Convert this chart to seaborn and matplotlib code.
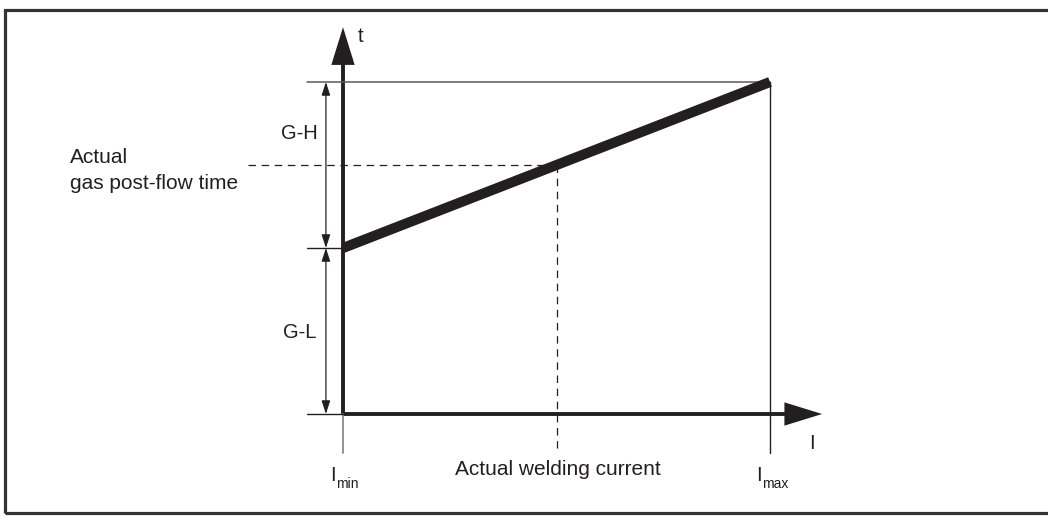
import matplotlib
matplotlib.use("Agg")
import matplotlib.pyplot as plt
from matplotlib.patches import FancyArrowPatch, Rectangle
import seaborn as sns
import pandas as pd

sns.set_theme(style="white")
plt.rcParams["font.family"] = ["Liberation Sans", "DejaVu Sans"]

# Welding current (normalised: I_min = 0, I_max = 1)
current = [0.0, 1.0]
# Gas post-flow time: G-L at I_min, G-L + G-H at I_max
post_flow_time = [1.0, 2.0]
g_low = 1.0
g_high = 1.0
actual_current = 0.5
actual_time = 1.5
axis_labels = ["I", "t"]
current_subscripts = ["min", "max"]
dim_labels = ["G-L", "G-H"]
actual_current_label = "Actual welding current"
actual_time_label = ["Actual", "gas post-flow time"]

INK = "#231f20"
GREY = "#5a5a5a"
FS = 14.5

W, H = 1048, 517
fig = plt.figure(figsize=(W / 100, H / 100), dpi=100)
ax = fig.add_axes([0, 0, 1, 1])
ax.set_axis_off()

# data scale: 427 px per unit current, 166 px per unit time
x0, sx = 343, 427
y0, sy = 414, 166
ax.set_xlim(-x0 / sx, (W - x0) / sx)
ax.set_ylim(-(H - y0) / sy, y0 / sy)

# outer frame
fig.patches.append(Rectangle((5 / W, 4 / H), 1.2, (513 - 10) / H, transform=fig.transFigure,
                             fill=False, edgecolor="#333333", lw=2.3))

t_max = g_low + g_high
left_ext = -0.084
below = -0.235

# reference lines
ax.plot([left_ext, current[1]], [t_max, t_max], color=GREY, lw=1.1)
ax.plot([current[1], current[1]], [t_max, below], color=INK, lw=1.0)
ax.plot([0, 0], [0, below], color="#8a8a8a", lw=1.3)
ax.plot([left_ext, 0], [g_low, g_low], color=INK, lw=1.0)
ax.plot([left_ext, 0], [0, 0], color=INK, lw=1.0)

# actual operating point
ax.plot([-0.222, actual_current], [actual_time, actual_time], color=INK, lw=0.9,
        dashes=(6, 4.5))
ax.plot([actual_current, actual_current], [actual_time, below], color=INK, lw=0.9,
        dashes=(6, 4.5))

# axes with arrow heads
for tip in [(1.122, 0), (0, 2.33)]:
    ax.add_patch(FancyArrowPatch((0, 0), tip, arrowstyle="-|>,head_length=21,head_width=6.5",
                                 mutation_scale=1, color=INK, lw=2.8, shrinkA=0, shrinkB=0,
                                 capstyle="butt", joinstyle="miter"))

# dimension arrows G-L / G-H
dim_x = -0.040
for lo, hi in [(0, g_low), (g_low, t_max)]:
    ax.add_patch(FancyArrowPatch((dim_x, lo), (dim_x, hi),
                                 arrowstyle="<|-|>,head_length=8,head_width=2.6",
                                 mutation_scale=1, color=INK, lw=0.9, shrinkA=0, shrinkB=0))

# characteristic line
df = pd.DataFrame({"I": current, "t": post_flow_time})
sns.lineplot(data=df, x="I", y="t", ax=ax, color=INK, lw=7.3,
             solid_capstyle="butt", legend=False)

# labels
ax.text(0.042, 2.24, axis_labels[1], fontsize=FS, color=INK, ha="center", va="baseline")
ax.text(1.091, -0.211, axis_labels[0], fontsize=FS, color=INK, ha="left", va="baseline")
for xpos, sub in zip([-0.031, 0.967], current_subscripts):
    ax.text(xpos, -0.404, axis_labels[0], fontsize=FS, color=INK, ha="left", va="baseline")
    ax.annotate(sub, (xpos, -0.404), xytext=(4.6, -5.2), textcoords="offset points",
                fontsize=10, color=INK, ha="left", va="baseline")
ax.text(actual_current + 0.004, -0.367, actual_current_label, fontsize=15, color=INK,
        ha="center", va="baseline")
ax.text(-0.102, 1.655, dim_labels[1], fontsize=FS, color=INK, ha="center", va="baseline")
ax.text(-0.102, 0.46, dim_labels[0], fontsize=FS, color=INK, ha="center", va="baseline")
ax.text(-0.640, 1.512, actual_time_label[0], fontsize=15, color=INK, ha="left", va="baseline")
ax.text(-0.640, 1.355, actual_time_label[1], fontsize=15, color=INK, ha="left", va="baseline")

fig.savefig("out.png", dpi=100)
